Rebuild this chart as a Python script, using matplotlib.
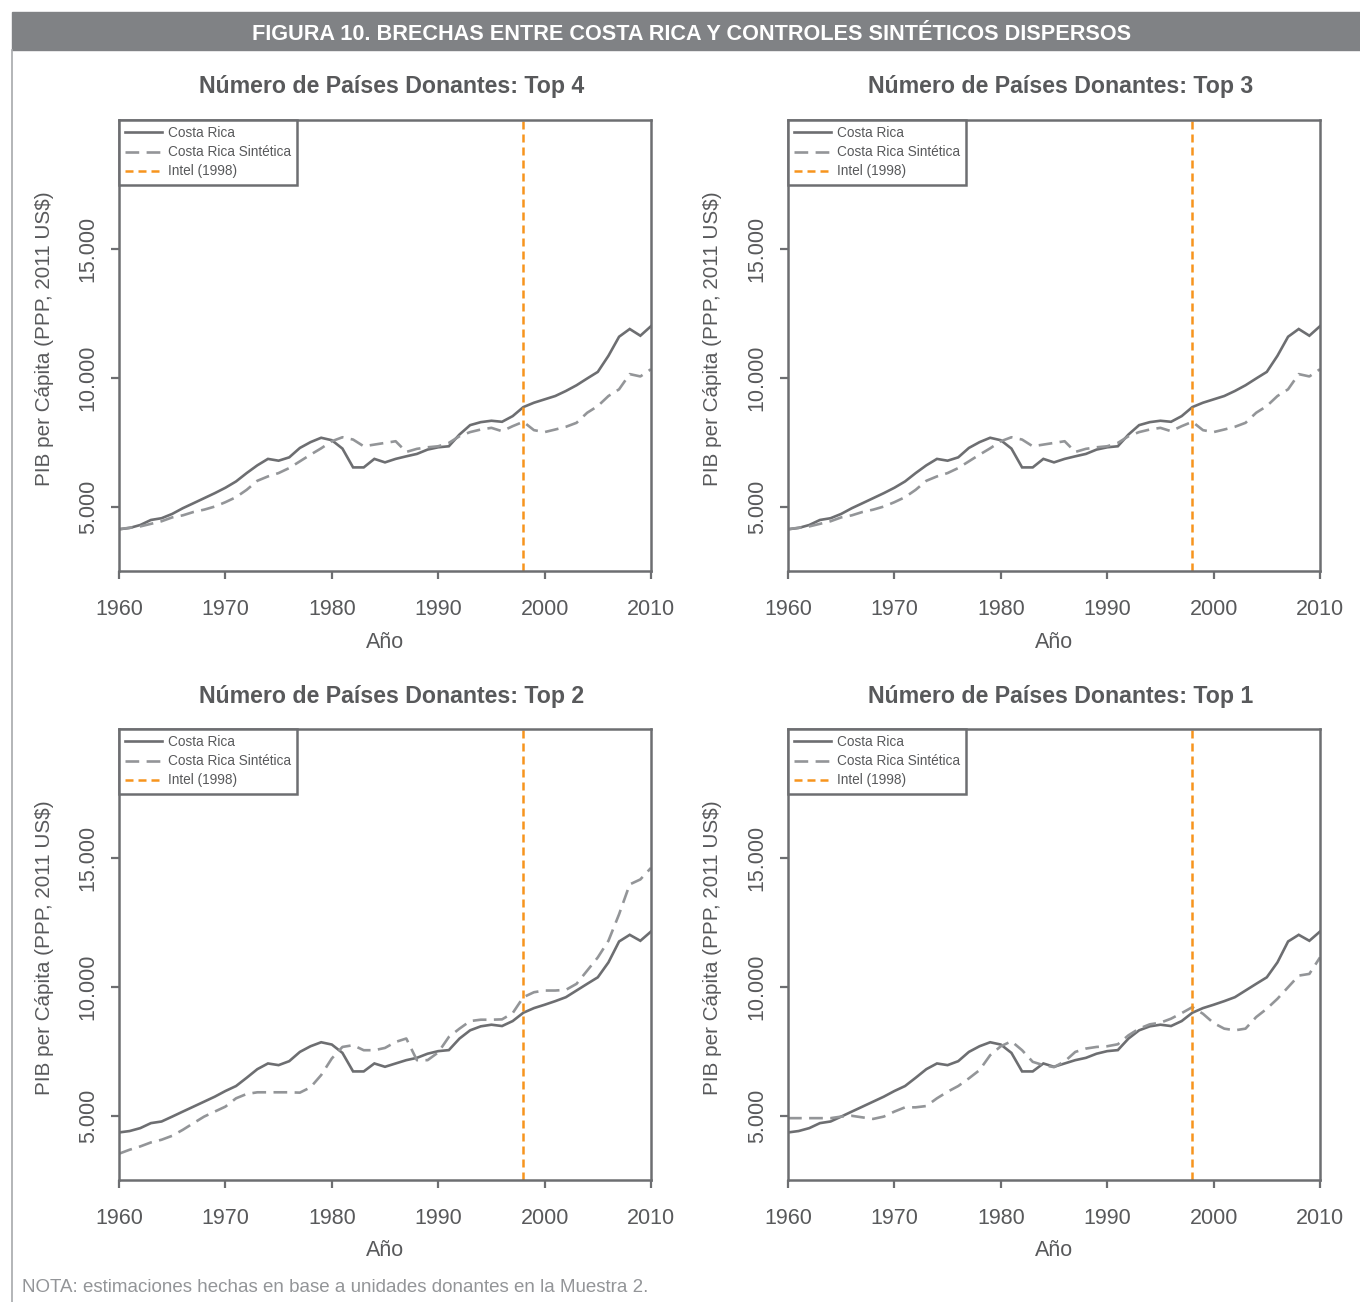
import matplotlib
matplotlib.use("Agg")
import matplotlib.pyplot as plt
from matplotlib.patches import Rectangle
from matplotlib.lines import Line2D
import numpy as np

# ---------------- data ----------------
years = list(range(1960, 2011))

costa_rica_top = [4120, 4170, 4285, 4480, 4548, 4715, 4937, 5130, 5325, 5520,
                  5730, 5975, 6300, 6600, 6850, 6780, 6910, 7275, 7500, 7670,
                  7575, 7250, 6520, 6520, 6850, 6715, 6850, 6950, 7043, 7211,
                  7300, 7340, 7796, 8160, 8276, 8330, 8290, 8510, 8860, 9030,
                  9160, 9290, 9485, 9707, 9970, 10226, 10850, 11590, 11890, 11630, 12000]

costa_rica_bottom = [4345, 4400, 4513, 4707, 4770, 4960, 5155, 5347, 5540, 5733,
                     5953, 6146, 6467, 6800, 7022, 6957, 7111, 7470, 7690, 7845,
                     7756, 7432, 6713, 6713, 7022, 6893, 7022, 7150, 7240, 7400,
                     7500, 7540, 7988, 8308, 8462, 8526, 8474, 8667, 8990, 9170,
                     9300, 9440, 9593, 9852, 10111, 10365, 10944, 11755, 12014, 11782, 12141]

synth_top4 = [4120, 4180, 4230, 4330, 4430, 4580, 4660, 4790, 4880, 5000,
              5170, 5365, 5650, 6000, 6170, 6300, 6495, 6755, 7015, 7260,
              7535, 7690, 7600, 7340, 7405, 7470, 7535, 7120, 7240, 7300,
              7340, 7470, 7730, 7890, 7990, 8055, 7925, 8120, 8290, 7965,
              7890, 7990, 8095, 8250, 8640, 8900, 9290, 9550, 10140, 10050, 10330]

synth_top3 = [4120, 4180, 4230, 4330, 4430, 4580, 4660, 4790, 4880, 5000,
              5170, 5365, 5650, 6000, 6170, 6300, 6495, 6755, 7015, 7260,
              7535, 7690, 7600, 7340, 7405, 7470, 7535, 7120, 7240, 7300,
              7340, 7470, 7730, 7890, 7990, 8055, 7925, 8120, 8290, 7965,
              7890, 7990, 8095, 8250, 8640, 8900, 9290, 9550, 10140, 10050, 10330]

synth_top2 = [3520, 3675, 3803, 3958, 4062, 4216, 4448, 4707, 4960, 5155,
              5347, 5670, 5838, 5903, 5903, 5903, 5903, 5890, 6096, 6571,
              7215, 7663, 7730, 7536, 7536, 7625, 7857, 7990, 7150, 7150,
              7450, 8050, 8373, 8667, 8720, 8720, 8733, 8976, 9593, 9786,
              9852, 9852, 9879, 10111, 10624, 11137, 11782, 12812, 13970, 14163, 14611]

synth_top1 = [4900, 4900, 4900, 4900, 4900, 4960, 4990, 4930, 4870, 4960,
              5155, 5320, 5320, 5370, 5670, 5926, 6146, 6443, 6764, 7343,
              7690, 7883, 7536, 7085, 6957, 6880, 7100, 7470, 7600, 7663,
              7690, 7767, 8115, 8373, 8540, 8604, 8760, 8976, 9207, 8950,
              8590, 8373, 8308, 8373, 8822, 9145, 9532, 9980, 10431, 10497, 11137]

panel_titles = ["Número de Países Donantes: Top 4", "Número de Países Donantes: Top 3",
                "Número de Países Donantes: Top 2", "Número de Países Donantes: Top 1"]
intel_year = 1998
x_ticks = [1960, 1970, 1980, 1990, 2000, 2010]
y_ticks = [5000, 10000, 15000]
y_ticklabels = ["5.000", "10.000", "15.000"]
legend_labels = ["Costa Rica", "Costa Rica Sintética", "Intel (1998)"]
header_text = "FIGURA 10. BRECHAS ENTRE COSTA RICA Y CONTROLES SINTÉTICOS DISPERSOS"
note_text = "NOTA: estimaciones hechas en base a unidades donantes en la Muestra 2."
x_label = "Año"
y_label = "PIB per Cápita (PPP, 2011 US$)"

# ---------------- style ----------------
FONT = ["Liberation Sans", "DejaVu Sans"]
plt.rcParams['font.family'] = FONT
C_SOLID = "#6d6e71"
C_DASH = "#939598"
C_ORANGE = "#f7941d"
C_FRAME = "#6d6e71"
C_TEXT = "#58595b"

W, H = 1360, 1302
fig = plt.figure(figsize=(W / 100, H / 100), dpi=100)

def fx(px):
    return px / W

def fy(py):
    return 1 - py / H

# header bar
fig.patches.append(Rectangle((fx(12), fy(50)), 1 - fx(12), fy(12) - fy(50),
                             transform=fig.transFigure, color="#808285", zorder=0))
fig.text(fx(692), fy(34), header_text, color="white", fontsize=15.6,
         fontweight="bold", ha="center", va="center")
# left border line
fig.lines.append(Line2D([fx(12), fx(12)], [fy(50), 0], transform=fig.transFigure,
                        color="#a7a9ac", lw=1.2))

panels = [
    (119, 120, costa_rica_top, synth_top4, panel_titles[0]),
    (788, 120, costa_rica_top, synth_top3, panel_titles[1]),
    (119, 729, costa_rica_bottom, synth_top2, panel_titles[2]),
    (788, 729, costa_rica_bottom, synth_top1, panel_titles[3]),
]
AW, AH = 532, 451

for (left, top, cr, syn, title) in panels:
    ax = fig.add_axes([fx(left), fy(top + AH), AW / W, AH / H])
    ax.plot(years, cr, color=C_SOLID, lw=1.9, solid_joinstyle="miter")
    ax.plot(years, syn, color=C_DASH, lw=1.9, dashes=(5.2, 2.8))
    ax.axvline(intel_year, color=C_ORANGE, lw=1.8, dashes=(3.2, 2.0))
    ax.set_xlim(1960, 2010)
    ax.set_ylim(2500, 20000)
    ax.set_xticks(x_ticks)
    ax.set_xticklabels([str(v) for v in x_ticks])
    ax.set_yticks(y_ticks)
    ax.set_yticklabels(y_ticklabels, rotation=90, va="center")
    for sp in ax.spines.values():
        sp.set_color(C_FRAME)
        sp.set_linewidth(1.8)
    ax.tick_params(axis="both", direction="out", length=5.5, width=1.6,
                   color=C_FRAME, labelcolor=C_TEXT, labelsize=15.5)
    ax.tick_params(axis="x", pad=14.5)
    ax.tick_params(axis="y", pad=9)
    handles = [Line2D([], [], color=C_SOLID, lw=1.9),
               Line2D([], [], color=C_DASH, lw=1.9, dashes=(5.2, 2.8)),
               Line2D([], [], color=C_ORANGE, lw=1.8, dashes=(3.2, 2.0))]
    leg = ax.legend(handles, legend_labels, loc="upper left", borderaxespad=0,
                    fancybox=False, frameon=True, prop={"size": 9.8},
                    handlelength=2.7, handletextpad=0.45, labelspacing=0.38,
                    borderpad=0.45, labelcolor=C_TEXT)
    fr = leg.get_frame()
    fr.set_edgecolor(C_FRAME)
    fr.set_linewidth(1.8)
    fr.set_alpha(1)
    cx = left + AW / 2
    fig.text(fx(cx + 7), fy(top - 33), title, fontsize=16.7, fontweight="bold",
             color=C_TEXT, ha="center", va="center")
    fig.text(fx(cx), fy(top + AH + 71), x_label, fontsize=15.5, color=C_TEXT,
             ha="center", va="center")
    fig.text(fx(left - 75), fy(top + 219), y_label, fontsize=14.9, color=C_TEXT,
             ha="center", va="center", rotation=90)

fig.text(fx(22), fy(1287), note_text, fontsize=13.5, color="#939598",
         ha="left", va="center")

fig.savefig("out.png", dpi=100, facecolor="white")
